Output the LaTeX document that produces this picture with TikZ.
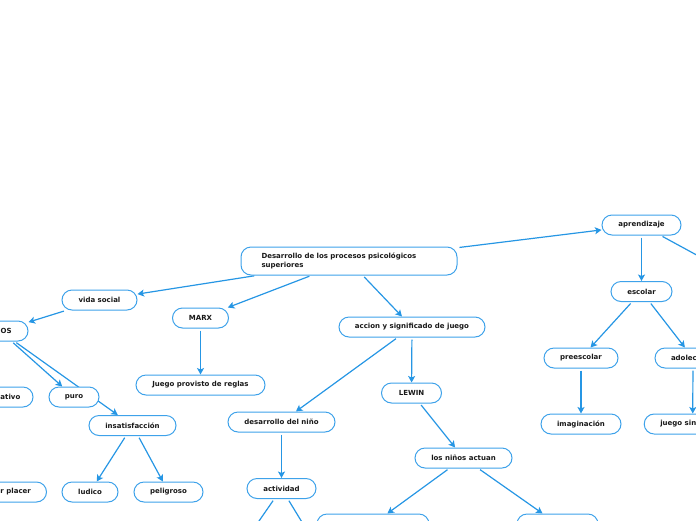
\documentclass[tikz,border=0pt]{standalone}
\usepackage{fontspec}
\setmainfont{DejaVu Sans}
\usetikzlibrary{arrows.meta}
\definecolor{cline}{RGB}{38,150,228}
\definecolor{cbord}{RGB}{62,162,234}
\definecolor{ctext}{RGB}{25,25,25}
\pgfdeclarelayer{bg}
\pgfsetlayers{bg,main}
\begin{document}
\begin{tikzpicture}[x=1pt,y=-1pt,
  box/.style={draw=cbord, line width=1pt, rounded corners=10pt, fill=white,
    minimum height=20pt, inner sep=0pt,
    font=\fontsize{7pt}{8.3pt}\selectfont\bfseries, text=ctext},
  conn/.style={draw=cline, line width=1.2pt,
    -{Stealth[length=6.5pt,width=7pt,inset=1.5pt]}, shorten <=2pt},
  plainconn/.style={draw=cline, line width=1.2pt, shorten <=2pt}]
\useasboundingbox (0,0) rectangle (696,520);
\clip (0,0) rectangle (696,520);

% nodes
\node[box, minimum width=216pt, minimum height=28pt, text width=175pt, align=left,
  inner xsep=20.5pt, font=\fontsize{7pt}{8.3pt}\selectfont\bfseries]
  (main) at (349,261) {Desarrollo de los procesos psicológicos\\superiores};
\node[box, minimum width=79pt] (apr) at (641.5,225) {aprendizaje};
\node[box, minimum width=61pt] (esc) at (641.5,291.5) {escolar};
\node[box, minimum width=74pt] (pre) at (581,358) {preescolar};
\node[box, minimum width=76pt] (ado) at (693,358) {\makebox[44pt][l]{adolec}};
\node[box, minimum width=80pt] (ima) at (581,424) {imaginación};
\node[box, minimum width=97pt] (jsin) at (692.7,424) {\makebox[64.8pt][l]{juego sin}};
\node[box, minimum width=75pt] (vida) at (99.5,300) {vida social};
\node[box, minimum width=56pt] (os) at (0,331) {\makebox[23.4pt][r]{OS}};
\node[box, minimum width=56pt] (marx) at (200.5,318) {MARX};
\node[box, minimum width=129pt] (jpr) at (200.5,385) {Juego provisto de reglas};
\node[box, minimum width=62pt] (ativo) at (2,397) {\makebox[3pt][l]{ativo}};
\node[box, minimum width=50pt] (puro) at (74,397) {puro};
\node[box, minimum width=87pt] (insat) at (132.5,425.5) {insatisfacción};
\node[box, minimum width=77pt] (rpl) at (8,492) {\makebox[15pt][l]{r placer}};
\node[box, minimum width=56pt] (lud) at (90,492) {ludico};
\node[box, minimum width=69pt] (pel) at (168.5,492) {peligroso};
\node[box, minimum width=146pt] (acc) at (412,327) {accion y significado de juego};
\node[box, minimum width=60pt] (lew) at (411.5,393) {LEWIN};
\node[box, minimum width=107pt] (des) at (281.5,422) {desarrollo del niño};
\node[box, minimum width=69pt] (act) at (281.5,488.5) {actividad};
\node[box, minimum width=97pt] (nin) at (463.5,458) {los niños actuan};
\node[box, minimum width=112pt] (b1) at (373,524) {};
\node[box, minimum width=81pt] (b2) at (557.5,524) {};

\coordinate (offR) at (748,283);
\coordinate (offL) at (-30,331);
\coordinate (offB1) at (232,560);
\coordinate (offB2) at (325,560);

% connectors
\begin{pgfonlayer}{bg}
\clip (0,0) rectangle (696,520);
\draw[conn] (main) -- (apr);
\draw[conn] (apr) -- (esc);
\draw[plainconn] (apr) -- (offR);
\draw[conn] (esc) -- (pre);
\draw[conn] (esc) -- (ado);
\draw[conn] (pre) -- (ima);
\draw[conn] (ado) -- (jsin);
\draw[conn] (main) -- (vida);
\draw[conn] (main) -- (marx);
\draw[conn] (main) -- (acc);
\draw[conn] (vida) -- (os);
\draw[conn] (offL) -- (ativo);
\draw[conn] (os) -- (puro);
\draw[conn] (os) -- (insat);
\draw[conn] (insat) -- (lud);
\draw[conn] (insat) -- (pel);
\draw[conn] (marx) -- (jpr);
\draw[conn] (acc) -- (des);
\draw[conn] (acc) -- (lew);
\draw[conn] (lew) -- (nin);
\draw[conn] (des) -- (act);
\draw[conn] (nin) -- (b1);
\draw[conn] (nin) -- (b2);
\draw[plainconn] (act) -- (offB1);
\draw[plainconn] (act) -- (offB2);
\end{pgfonlayer}
\end{tikzpicture}
\end{document}
